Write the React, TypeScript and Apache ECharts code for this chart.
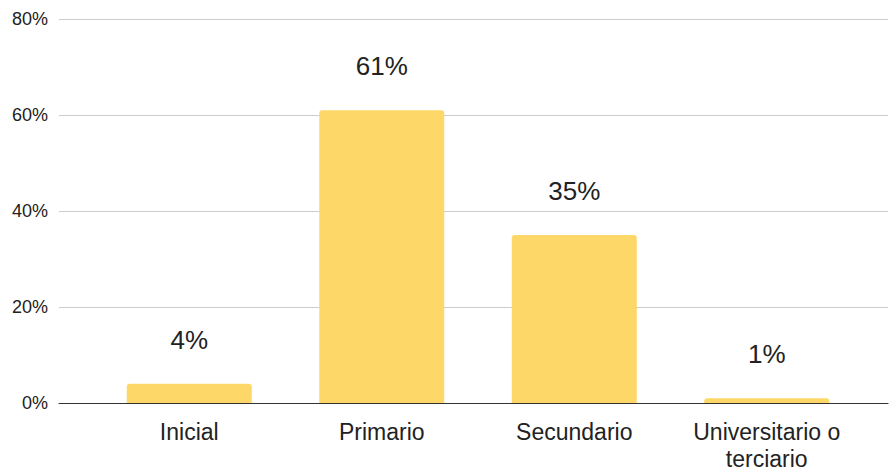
import React, { useEffect, useRef } from "react";
import * as echarts from "echarts";

const categories = ["Inicial", "Primario", "Secundario", "Universitario o\nterciario"];
const values = [4, 61, 35, 1];
const yTicks = [0, 20, 40, 60, 80];

export default function App() {
  const ref = useRef<HTMLDivElement>(null);
  useEffect(() => {
    if (!ref.current) return;
    const chart = echarts.init(ref.current, null, { renderer: "svg" });
    const font = "'Liberation Sans', Arial, Helvetica, sans-serif";
    chart.setOption({
      animation: false,
      textStyle: { fontFamily: font },
      grid: [
        { left: 59, right: 1, top: 19, bottom: 67, outerBoundsMode: "none", containLabel: false },
        { left: 93, right: 26, top: 19, bottom: 67, outerBoundsMode: "none", containLabel: false },
      ],
      xAxis: [
        {
          gridIndex: 0,
          type: "value",
          min: 0,
          max: 1,
          axisLabel: { show: false },
          axisTick: { show: false },
          splitLine: { show: false },
          axisLine: { show: true, lineStyle: { color: "#333", width: 1.2 } },
        },
        {
          gridIndex: 1,
          type: "category",
          data: categories,
          axisLine: { show: false },
          axisTick: { show: false },
          axisLabel: {
            color: "#222",
            fontSize: 23,
            margin: 15,
            lineHeight: 27,
            fontFamily: font,
            interval: 0,
          },
        },
      ],
      yAxis: [
        {
          gridIndex: 0,
          type: "value",
          min: yTicks[0],
          max: yTicks[yTicks.length - 1],
          interval: 20,
          axisLine: { show: false },
          axisTick: { show: false },
          axisLabel: {
            formatter: "{value}%",
            color: "#222",
            fontSize: 18,
            margin: 11,
            fontFamily: font,
          },
          splitLine: { lineStyle: { color: "#cccccc", width: 1.2 } },
        },
        {
          gridIndex: 1,
          type: "value",
          min: 0,
          max: 80,
          show: false,
          splitLine: { show: false },
        },
      ],
      series: [
        {
          type: "bar",
          xAxisIndex: 1,
          yAxisIndex: 1,
          data: values,
          barWidth: 125,
          itemStyle: { color: "#fdd768", borderRadius: [3, 3, 0, 0] },
          label: {
            show: true,
            position: "top",
            distance: 31,
            formatter: "{c}%",
            color: "#222",
            fontSize: 26,
            fontFamily: font,
          },
          z: 3,
        },
      ],
    });
    return () => chart.dispose();
  }, []);
  return (
    <div
      ref={ref}
      style={{ position: "absolute", left: 0, top: 0, width: 889, height: 470 }}
    />
  );
}
